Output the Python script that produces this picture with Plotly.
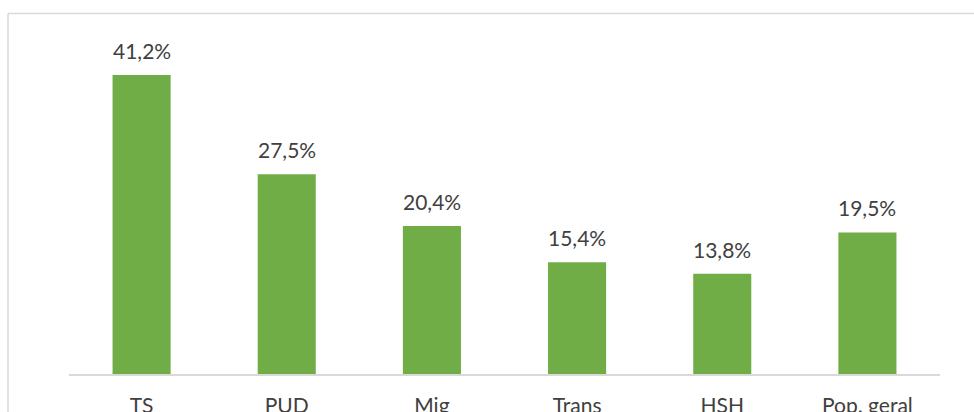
import plotly.graph_objects as go

categories = ["TS", "PUD", "Mig", "Trans", "HSH", "Pop. geral"]
values = [41.2, 27.5, 20.4, 15.4, 13.8, 19.5]
labels = ["41,2%", "27,5%", "20,4%", "15,4%", "13,8%", "19,5%"]

BAR = "#70AD47"
TXT = "#404040"
FONT = "Lato"

fig = go.Figure()
fig.add_trace(go.Bar(x=categories, y=values, marker=dict(color=BAR, line=dict(width=0)),
                     hoverinfo="skip"))

for c, v, t in zip(categories, values, labels):
    fig.add_annotation(x=c, y=v, text=t, showarrow=False, yanchor="bottom",
                       yshift=10, font=dict(family=FONT, size=21, color=TXT))

L, R, T, B = 69, 34, 11, 38
W, H = 974, 412
pw, ph = W - L - R, H - T - B

def px2x(px):
    return (px - L) / pw

def py2y(py):
    return (H - B - py) / ph

# chart area border (cropped at right and bottom)
fig.add_shape(type="line", xref="paper", yref="paper",
              x0=px2x(8), x1=px2x(980), y0=py2y(13.5), y1=py2y(13.5),
              line=dict(color="#D9D9D9", width=1.5))
fig.add_shape(type="line", xref="paper", yref="paper",
              x0=px2x(8), x1=px2x(8), y0=py2y(13.5), y1=py2y(420),
              line=dict(color="#D9D9D9", width=1.5))

fig.update_layout(
    width=W, height=H,
    margin=dict(l=L, r=R, t=T, b=B, autoexpand=False),
    plot_bgcolor="white", paper_bgcolor="white",
    bargap=0.6, showlegend=False,
    font=dict(family=FONT, size=21, color=TXT),
    xaxis=dict(showline=True, linecolor="#D9D9D9", linewidth=1.5, ticks="",
               showgrid=False, tickfont=dict(family=FONT, size=21, color=TXT),
               ticklabelstandoff=12),
    yaxis=dict(range=[0, 50], visible=False, showgrid=False),
)

fig.write_html("out.html", config={"displayModeBar": False},
               post_script="document.body.style.margin='0';document.body.style.overflow='hidden';")
